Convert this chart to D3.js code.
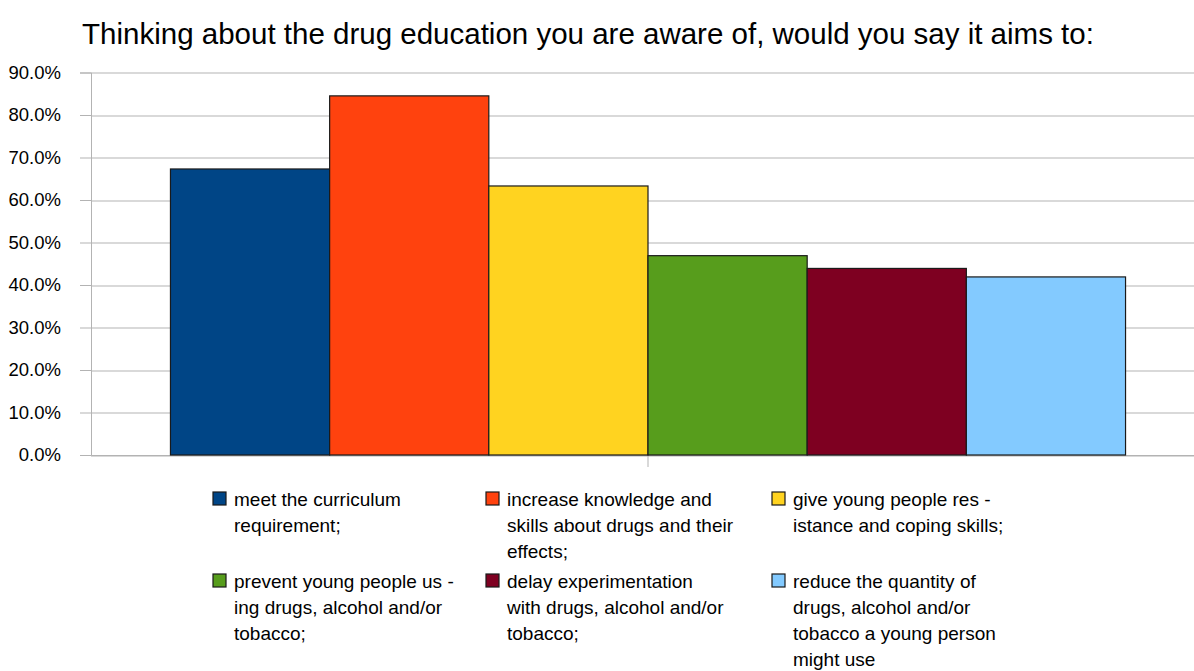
<!DOCTYPE html>
<html>
<head>
<meta charset="utf-8">
<script src="https://cdn.jsdelivr.net/npm/d3@7"></script>
<style>
  body { margin: 0; background: #fff; }
  svg { display: block; font-family: "Liberation Sans", Arial, sans-serif; }
</style>
</head>
<body>
<div id="chart"></div>
<script>
// data
const title = "Thinking about the drug education you are aware of, would you say it aims to:";
const series = [
  "meet the curriculum requirement;",
  "increase knowledge and skills about drugs and their effects;",
  "give young people resistance and coping skills;",
  "prevent young people using drugs, alcohol and/or tobacco;",
  "delay experimentation with drugs, alcohol and/or tobacco;",
  "reduce the quantity of drugs, alcohol and/or tobacco a young person might use"
];
const values = [67.3, 84.5, 63.3, 46.9, 43.9, 41.9];
const legendLines = [
  ["meet the curriculum", "requirement;"],
  ["increase knowledge and", "skills about drugs and their", "effects;"],
  ["give young people res  -", "istance and coping skills;"],
  ["prevent young people us  -", "ing drugs, alcohol and/or", "tobacco;"],
  ["delay experimentation", "with drugs, alcohol and/or", "tobacco;"],
  ["reduce the quantity of", "drugs, alcohol and/or", "tobacco a young person", "might use"]
];
const colors = ["#004586", "#ff420e", "#ffd320", "#579d1c", "#7e0021", "#83caff"];
const yTicks = [0, 10, 20, 30, 40, 50, 60, 70, 80, 90];

const width = 1194, height = 671;
const margin = {top: 72.5, right: -11, bottom: 216, left: 91};
const innerW = width - margin.left - margin.right;
const innerH = height - margin.top - margin.bottom;

const svg = d3.select("#chart").append("svg")
    .attr("width", width)
    .attr("height", height);

svg.append("text")
    .attr("x", 588)
    .attr("y", 44)
    .attr("text-anchor", "middle")
    .attr("font-size", 29.5)
    .attr("fill", "#000")
    .text(title);

const chart = svg.append("g")
    .attr("transform", `translate(${margin.left},${margin.top})`);

const yScale = d3.scaleLinear().domain([0, 90]).range([innerH, 0]);
const xScale = d3.scaleBand().domain([""]).range([0, innerW]).paddingOuter(0.0832);
const xSub = d3.scaleBand().domain(d3.range(series.length)).range([0, xScale.bandwidth()]);

// gridlines
chart.append("g")
    .selectAll("line")
    .data(yTicks)
    .join("line")
    .attr("x1", 0)
    .attr("x2", innerW)
    .attr("y1", d => Math.round(yScale(d)) + 0.5)
    .attr("y2", d => Math.round(yScale(d)) + 0.5)
    .attr("stroke", "#b3b3b3")
    .attr("stroke-width", 1);

// y axis
const yAxis = d3.axisLeft(yScale)
    .tickValues(yTicks)
    .tickSize(11)
    .tickPadding(19)
    .tickFormat(d => d.toFixed(1) + "%");

const yAxisG = chart.append("g").call(yAxis);
yAxisG.select(".domain").attr("stroke", "#b3b3b3");
yAxisG.selectAll(".tick line").attr("stroke", "#b3b3b3");
yAxisG.selectAll(".tick text")
    .attr("font-size", 18.5)
    .attr("font-family", "Liberation Sans, Arial, sans-serif")
    .attr("fill", "#000");

// x axis (single category)
const xAxis = d3.axisBottom(xScale).tickSize(12).tickSizeOuter(0).tickFormat("");
const xAxisG = chart.append("g")
    .attr("transform", `translate(0,${innerH})`)
    .call(xAxis);
xAxisG.select(".domain").attr("stroke", "#b3b3b3");
xAxisG.selectAll(".tick line").attr("stroke", "#b3b3b3");

// bars
chart.append("g")
    .attr("transform", `translate(${xScale("")},0)`)
    .selectAll("rect")
    .data(values)
    .join("rect")
    .attr("x", (d, i) => xSub(i))
    .attr("y", d => yScale(d))
    .attr("width", xSub.bandwidth())
    .attr("height", d => innerH - yScale(d))
    .attr("fill", (d, i) => colors[i])
    .attr("stroke", "#1a1a1a")
    .attr("stroke-width", 1.2);

// legend
const legendX = [213, 486, 772];
const legendY = [492, 574];
const lineH = 26.3;

const legend = svg.append("g")
    .selectAll("g")
    .data(series)
    .join("g")
    .attr("transform", (d, i) => `translate(${legendX[i % 3]},${legendY[Math.floor(i / 3)]})`);

legend.append("rect")
    .attr("width", 13)
    .attr("height", 13)
    .attr("fill", (d, i) => colors[i])
    .attr("stroke", "#1a1a1a")
    .attr("stroke-width", 1.2);

legend.append("text")
    .attr("font-size", 19)
    .attr("fill", "#000")
    .selectAll("tspan")
    .data((d, i) => legendLines[i])
    .join("tspan")
    .attr("x", 21)
    .attr("y", (d, j) => 13.5 + j * lineH)
    .text(d => d);
</script>
</body>
</html>
